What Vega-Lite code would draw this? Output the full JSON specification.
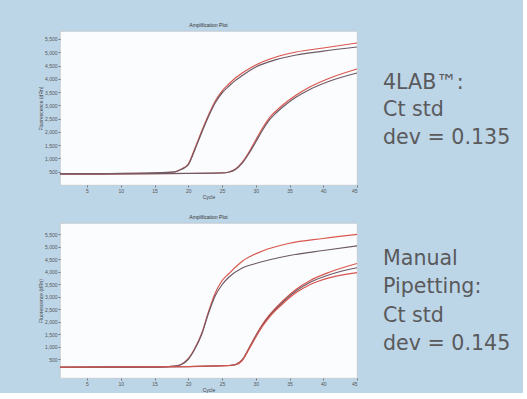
{
  "$schema": "https://vega.github.io/schema/vega-lite/v6.json",
  "background": "#bcd5e7",
  "padding": {"left": 38, "top": 22, "right": 0, "bottom": 0},
  "config": {
    "view": {"fill": "#fbfcfd", "stroke": "#c2cad2", "strokeWidth": 0.8},
    "axis": {"labelFontSize": 5, "labelColor": "#555555", "titleFontSize": 5, "titleColor": "#444444", "titleFontWeight": "normal", "domain": false, "grid": false, "tickSize": 2, "tickColor": "#777777", "labelPadding": 1, "titlePadding": 1},
    "title": {"fontSize": 5, "fontWeight": "normal", "color": "#333333", "offset": 3},
    "line": {"strokeWidth": 1.2, "interpolate": "monotone"}
  },
  "datasets": {
    "top": [
      {"curve": "A1", "cycle": 1, "value": 414}, {"curve": "A1", "cycle": 5, "value": 414}, {"curve": "A1", "cycle": 10, "value": 433}, {"curve": "A1", "cycle": 15, "value": 452}, {"curve": "A1", "cycle": 18, "value": 490}, {"curve": "A1", "cycle": 19, "value": 603}, {"curve": "A1", "cycle": 20, "value": 791}, {"curve": "A1", "cycle": 21, "value": 1393}, {"curve": "A1", "cycle": 22, "value": 2034}, {"curve": "A1", "cycle": 23, "value": 2636}, {"curve": "A1", "cycle": 24, "value": 3163}, {"curve": "A1", "cycle": 25, "value": 3540}, {"curve": "A1", "cycle": 26, "value": 3804}, {"curve": "A1", "cycle": 27, "value": 4030}, {"curve": "A1", "cycle": 28, "value": 4218}, {"curve": "A1", "cycle": 30, "value": 4519}, {"curve": "A1", "cycle": 33, "value": 4820}, {"curve": "A1", "cycle": 36, "value": 5009}, {"curve": "A1", "cycle": 40, "value": 5159}, {"curve": "A1", "cycle": 45, "value": 5348},
      {"curve": "A2", "cycle": 1, "value": 420}, {"curve": "A2", "cycle": 5, "value": 418}, {"curve": "A2", "cycle": 10, "value": 436}, {"curve": "A2", "cycle": 15, "value": 455}, {"curve": "A2", "cycle": 18, "value": 495}, {"curve": "A2", "cycle": 19, "value": 590}, {"curve": "A2", "cycle": 20, "value": 760}, {"curve": "A2", "cycle": 21, "value": 1340}, {"curve": "A2", "cycle": 22, "value": 1980}, {"curve": "A2", "cycle": 23, "value": 2580}, {"curve": "A2", "cycle": 24, "value": 3100}, {"curve": "A2", "cycle": 25, "value": 3465}, {"curve": "A2", "cycle": 26, "value": 3720}, {"curve": "A2", "cycle": 27, "value": 3940}, {"curve": "A2", "cycle": 28, "value": 4120}, {"curve": "A2", "cycle": 30, "value": 4444}, {"curve": "A2", "cycle": 33, "value": 4720}, {"curve": "A2", "cycle": 36, "value": 4896}, {"curve": "A2", "cycle": 40, "value": 5040}, {"curve": "A2", "cycle": 45, "value": 5197},
      {"curve": "B1", "cycle": 1, "value": 414}, {"curve": "B1", "cycle": 10, "value": 414}, {"curve": "B1", "cycle": 20, "value": 433}, {"curve": "B1", "cycle": 25, "value": 452}, {"curve": "B1", "cycle": 26, "value": 490}, {"curve": "B1", "cycle": 27, "value": 603}, {"curve": "B1", "cycle": 28, "value": 866}, {"curve": "B1", "cycle": 29, "value": 1243}, {"curve": "B1", "cycle": 30, "value": 1695}, {"curve": "B1", "cycle": 31, "value": 2147}, {"curve": "B1", "cycle": 32, "value": 2523}, {"curve": "B1", "cycle": 33, "value": 2787}, {"curve": "B1", "cycle": 34, "value": 3013}, {"curve": "B1", "cycle": 36, "value": 3389}, {"curve": "B1", "cycle": 38, "value": 3690}, {"curve": "B1", "cycle": 41, "value": 4030}, {"curve": "B1", "cycle": 45, "value": 4369},
      {"curve": "B2", "cycle": 1, "value": 420}, {"curve": "B2", "cycle": 10, "value": 420}, {"curve": "B2", "cycle": 20, "value": 438}, {"curve": "B2", "cycle": 25, "value": 455}, {"curve": "B2", "cycle": 26, "value": 480}, {"curve": "B2", "cycle": 27, "value": 580}, {"curve": "B2", "cycle": 28, "value": 820}, {"curve": "B2", "cycle": 29, "value": 1190}, {"curve": "B2", "cycle": 30, "value": 1619}, {"curve": "B2", "cycle": 31, "value": 2060}, {"curve": "B2", "cycle": 32, "value": 2440}, {"curve": "B2", "cycle": 33, "value": 2712}, {"curve": "B2", "cycle": 34, "value": 2940}, {"curve": "B2", "cycle": 36, "value": 3314}, {"curve": "B2", "cycle": 38, "value": 3600}, {"curve": "B2", "cycle": 41, "value": 3917}, {"curve": "B2", "cycle": 45, "value": 4218}
    ],
    "bottom": [
      {"curve": "C1", "cycle": 1, "value": 175}, {"curve": "C1", "cycle": 10, "value": 180}, {"curve": "C1", "cycle": 15, "value": 187}, {"curve": "C1", "cycle": 18, "value": 227}, {"curve": "C1", "cycle": 19, "value": 300}, {"curve": "C1", "cycle": 20, "value": 520}, {"curve": "C1", "cycle": 21, "value": 950}, {"curve": "C1", "cycle": 22, "value": 1540}, {"curve": "C1", "cycle": 23, "value": 2400}, {"curve": "C1", "cycle": 24, "value": 3150}, {"curve": "C1", "cycle": 25, "value": 3640}, {"curve": "C1", "cycle": 26, "value": 3920}, {"curve": "C1", "cycle": 28, "value": 4420}, {"curve": "C1", "cycle": 31, "value": 4830}, {"curve": "C1", "cycle": 35, "value": 5140}, {"curve": "C1", "cycle": 40, "value": 5330}, {"curve": "C1", "cycle": 45, "value": 5493},
      {"curve": "C2", "cycle": 1, "value": 180}, {"curve": "C2", "cycle": 10, "value": 185}, {"curve": "C2", "cycle": 15, "value": 190}, {"curve": "C2", "cycle": 18, "value": 230}, {"curve": "C2", "cycle": 19, "value": 290}, {"curve": "C2", "cycle": 20, "value": 500}, {"curve": "C2", "cycle": 21, "value": 920}, {"curve": "C2", "cycle": 22, "value": 1500}, {"curve": "C2", "cycle": 23, "value": 2340}, {"curve": "C2", "cycle": 24, "value": 3040}, {"curve": "C2", "cycle": 25, "value": 3480}, {"curve": "C2", "cycle": 26, "value": 3780}, {"curve": "C2", "cycle": 28, "value": 4150}, {"curve": "C2", "cycle": 30, "value": 4330}, {"curve": "C2", "cycle": 35, "value": 4650}, {"curve": "C2", "cycle": 40, "value": 4850}, {"curve": "C2", "cycle": 45, "value": 5035},
      {"curve": "D1", "cycle": 1, "value": 175}, {"curve": "D1", "cycle": 20, "value": 207}, {"curve": "D1", "cycle": 26, "value": 247}, {"curve": "D1", "cycle": 27, "value": 290}, {"curve": "D1", "cycle": 28, "value": 480}, {"curve": "D1", "cycle": 29, "value": 950}, {"curve": "D1", "cycle": 30, "value": 1450}, {"curve": "D1", "cycle": 31, "value": 1900}, {"curve": "D1", "cycle": 32, "value": 2260}, {"curve": "D1", "cycle": 34, "value": 2830}, {"curve": "D1", "cycle": 36, "value": 3300}, {"curve": "D1", "cycle": 38, "value": 3640}, {"curve": "D1", "cycle": 41, "value": 3990}, {"curve": "D1", "cycle": 45, "value": 4330},
      {"curve": "D3", "cycle": 1, "value": 178}, {"curve": "D3", "cycle": 20, "value": 208}, {"curve": "D3", "cycle": 26, "value": 249}, {"curve": "D3", "cycle": 27, "value": 285}, {"curve": "D3", "cycle": 28, "value": 470}, {"curve": "D3", "cycle": 29, "value": 930}, {"curve": "D3", "cycle": 30, "value": 1420}, {"curve": "D3", "cycle": 31, "value": 1860}, {"curve": "D3", "cycle": 32, "value": 2220}, {"curve": "D3", "cycle": 34, "value": 2780}, {"curve": "D3", "cycle": 36, "value": 3240}, {"curve": "D3", "cycle": 38, "value": 3570}, {"curve": "D3", "cycle": 41, "value": 3890}, {"curve": "D3", "cycle": 45, "value": 4161},
      {"curve": "D2", "cycle": 1, "value": 180}, {"curve": "D2", "cycle": 20, "value": 210}, {"curve": "D2", "cycle": 26, "value": 250}, {"curve": "D2", "cycle": 27, "value": 280}, {"curve": "D2", "cycle": 28, "value": 450}, {"curve": "D2", "cycle": 29, "value": 900}, {"curve": "D2", "cycle": 30, "value": 1380}, {"curve": "D2", "cycle": 31, "value": 1820}, {"curve": "D2", "cycle": 32, "value": 2180}, {"curve": "D2", "cycle": 34, "value": 2720}, {"curve": "D2", "cycle": 36, "value": 3168}, {"curve": "D2", "cycle": 38, "value": 3480}, {"curve": "D2", "cycle": 41, "value": 3764}, {"curve": "D2", "cycle": 45, "value": 3962}
    ],
    "text1": [
      {"line": 0, "label": "4LAB™:"}, {"line": 1, "label": "Ct std"}, {"line": 2, "label": "dev = 0.135"}
    ],
    "text2": [
      {"line": 0, "label": "Manual"}, {"line": 1, "label": "Pipetting:"}, {"line": 2, "label": "Ct std"}, {"line": 3, "label": "dev = 0.145"}
    ]
  },
  "spacing": 14,
  "vconcat": [
    {
      "spacing": 23,
      "hconcat": [
        {
          "title": "Amplification Plot",
          "width": 297,
          "height": 154,
          "data": {"name": "top"},
          "mark": {"type": "line"},
          "encoding": {
            "x": {"field": "cycle", "type": "quantitative", "scale": {"domain": [1, 45], "nice": false}, "axis": {"values": [5, 10, 15, 20, 25, 30, 35, 40, 45], "title": "Cycle"}},
            "y": {"field": "value", "type": "quantitative", "scale": {"domain": [0, 5800], "nice": false}, "axis": {"values": [500, 1000, 1500, 2000, 2500, 3000, 3500, 4000, 4500, 5000, 5500], "format": ",d", "title": "Fluorescence (dRn)"}},
            "color": {"field": "curve", "type": "nominal", "scale": {"domain": ["A1", "A2", "B1", "B2"], "range": ["#d9564e", "#6d5a66", "#d9564e", "#6d5a66"]}, "legend": null},
            "detail": {"field": "curve"}
          }
        },
        {
          "width": 140,
          "height": 154,
          "view": {"fill": null, "stroke": null},
          "data": {"name": "text1"},
          "mark": {"type": "text", "align": "left", "baseline": "middle", "font": "DejaVu Sans", "fontSize": 20.6, "color": "#5a5a5c"},
          "encoding": {
            "x": {"datum": 0, "type": "quantitative", "scale": {"domain": [0, 1]}, "axis": null},
            "y": {"field": "line", "type": "quantitative", "scale": {"domain": [3.71, -1.89], "nice": false, "zero": false}, "axis": null},
            "text": {"field": "label"}
          }
        }
      ]
    },
    {
      "spacing": 23,
      "hconcat": [
        {
          "title": "Amplification Plot",
          "width": 297,
          "height": 155,
          "data": {"name": "bottom"},
          "mark": {"type": "line"},
          "encoding": {
            "x": {"field": "cycle", "type": "quantitative", "scale": {"domain": [1, 45], "nice": false}, "axis": {"values": [5, 10, 15, 20, 25, 30, 35, 40, 45], "title": "Cycle"}},
            "y": {"field": "value", "type": "quantitative", "scale": {"domain": [-250, 5950], "nice": false, "zero": false}, "axis": {"values": [500, 1000, 1500, 2000, 2500, 3000, 3500, 4000, 4500, 5000, 5500], "format": ",d", "title": "Fluorescence (dRn)"}},
            "color": {"field": "curve", "type": "nominal", "scale": {"domain": ["C1", "C2", "D1", "D3", "D2"], "range": ["#d9564e", "#6d5a66", "#d9564e", "#c89a9c", "#6d5a66"]}, "legend": null},
            "detail": {"field": "curve"}
          }
        },
        {
          "width": 140,
          "height": 155,
          "view": {"fill": null, "stroke": null},
          "data": {"name": "text2"},
          "mark": {"type": "text", "align": "left", "baseline": "middle", "font": "DejaVu Sans", "fontSize": 20.6, "color": "#5a5a5c"},
          "encoding": {
            "x": {"datum": 0, "type": "quantitative", "scale": {"domain": [0, 1]}, "axis": null},
            "y": {"field": "line", "type": "quantitative", "scale": {"domain": [4.2, -1.27], "nice": false, "zero": false}, "axis": null},
            "text": {"field": "label"}
          }
        }
      ]
    }
  ]
}
